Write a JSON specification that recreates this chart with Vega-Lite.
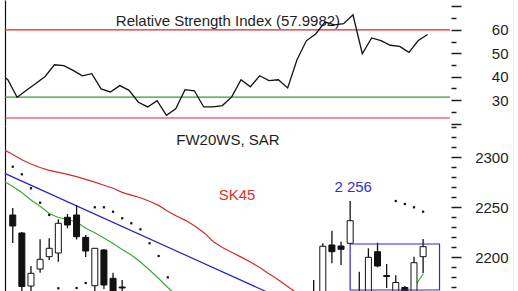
{
  "$schema": "https://vega.github.io/schema/vega-lite/v6.json",
  "padding": {"left": 4, "top": 0, "right": 0, "bottom": 0},
  "autosize": {"type": "pad"},
  "background": "white",
  "config": {
    "view": {"stroke": null},
    "font": "Liberation Sans",
    "locale": {"number": {"decimal": ",", "thousands": " ", "grouping": [3], "currency": ["", " zł"]}},
    "axis": {"grid": false, "domain": false, "labelFont": "Liberation Sans", "labelFontSize": 15, "labelColor": "#1e1e1e", "tickColor": "#1e1e1e", "tickWidth": 1.5}
  },
  "datasets": {
    "bars": [
      {"i": -1, "rsi": 41.7, "sk45": 2307.6, "sk_fast": 2276},
      {"i": 0, "open": 2242, "high": 2249, "low": 2214, "close": 2231, "rsi": 38.7, "sar": 2290.3, "sk45": 2302.4, "sk_fast": 2270.5},
      {"i": 1, "open": 2224, "high": 2225, "low": 2158, "close": 2170.5, "rsi": 31.2, "sar": 2282.7, "sk45": 2297.2, "sk_fast": 2264.5},
      {"i": 2, "open": 2171, "high": 2191, "low": 2158, "close": 2183.7, "rsi": 34.2, "sar": 2268.7, "sk45": 2293, "sk_fast": 2257},
      {"i": 3, "open": 2188, "high": 2217.7, "low": 2184.3, "close": 2197.7, "rsi": 37.1, "sar": 2254.3, "sk45": 2289.5, "sk_fast": 2250.7},
      {"i": 4, "open": 2200.3, "high": 2218.7, "low": 2197, "close": 2208.7, "rsi": 40.1, "sar": 2242, "sk45": 2286.7, "sk_fast": 2243.5},
      {"i": 5, "open": 2204, "high": 2237.7, "low": 2195.3, "close": 2233.7, "rsi": 45.1, "sar": 2168.7, "sk45": 2284.7, "sk_fast": 2239.5},
      {"i": 6, "open": 2239.7, "high": 2243, "low": 2228.7, "close": 2232, "rsi": 44.7, "sk45": 2282.7, "sk_fast": 2237.5},
      {"i": 7, "open": 2242, "high": 2251.5, "low": 2217.5, "close": 2220.3, "rsi": 42.7, "sar": 2169, "sk45": 2280.3, "sk_fast": 2235},
      {"i": 8, "open": 2219.7, "high": 2222, "low": 2200, "close": 2206, "rsi": 40.4, "sar": 2174, "sk45": 2277.7, "sk_fast": 2228.7},
      {"i": 9, "open": 2171.3, "high": 2208.7, "low": 2165, "close": 2208.7, "rsi": 41.3, "sar": 2249.7, "sk45": 2274.9, "sk_fast": 2224.3},
      {"i": 10, "open": 2207, "high": 2208, "low": 2168, "close": 2172, "rsi": 34.8, "sar": 2249.7, "sk45": 2271.8, "sk_fast": 2219},
      {"i": 11, "open": 2178.7, "high": 2184.3, "low": 2152, "close": 2156, "rsi": 33.5, "sar": 2245.3, "sk45": 2268.7, "sk_fast": 2213.5},
      {"i": 12, "open": 2170, "high": 2177, "low": 2158, "close": 2169, "rsi": 36.2, "sar": 2238.7, "sk45": 2264.6, "sk_fast": 2207.5},
      {"i": 13, "rsi": 34.2, "sar": 2233.7, "sk45": 2261.9, "sk_fast": 2202},
      {"i": 14, "rsi": 29.1, "sar": 2227.7, "sk45": 2259.3, "sk_fast": 2195},
      {"i": 15, "rsi": 27.1, "sar": 2213.7, "sk45": 2255.7, "sk_fast": 2187},
      {"i": 16, "rsi": 29.8, "sar": 2201, "sk45": 2251.6, "sk_fast": 2178.5},
      {"i": 17, "rsi": 23.5, "sar": 2179.7, "sk45": 2245.8, "sk_fast": 2169.5},
      {"i": 18, "rsi": 26.3, "sk45": 2240.7, "sk_fast": 2161},
      {"i": 19, "rsi": 34.5, "sk45": 2236.4},
      {"i": 20, "rsi": 34.0, "sk45": 2230.8},
      {"i": 21, "rsi": 27.1, "sk45": 2224.1},
      {"i": 22, "rsi": 27.1, "sk45": 2215.2},
      {"i": 23, "rsi": 27.7, "sk45": 2209.4},
      {"i": 24, "rsi": 31.4, "sk45": 2204.7},
      {"i": 25, "rsi": 38.7, "sk45": 2200.1},
      {"i": 26, "rsi": 35.7, "sk45": 2195.3},
      {"i": 27, "rsi": 40.4, "sk45": 2190},
      {"i": 28, "rsi": 38.3, "sk45": 2183.8},
      {"i": 29, "rsi": 38.7, "sk45": 2177.9},
      {"i": 30, "rsi": 35.2, "sk45": 2171.4},
      {"i": 31, "rsi": 47.2, "sk45": 2164.8},
      {"i": 32, "rsi": 55.3},
      {"i": 33, "open": 2150, "high": 2177, "low": 2145, "close": 2160, "rsi": 58.2},
      {"i": 34, "open": 2150, "high": 2213.7, "low": 2145, "close": 2210.7, "rsi": 63.3},
      {"i": 35, "open": 2212, "high": 2226.3, "low": 2193.7, "close": 2205.3, "rsi": 62.1},
      {"i": 36, "open": 2211, "high": 2215.3, "low": 2192, "close": 2207.7, "rsi": 62.6},
      {"i": 37, "open": 2213.7, "high": 2256, "low": 2213, "close": 2236.3, "rsi": 66.4},
      {"i": 38, "open": 2150, "high": 2185.3, "low": 2145, "close": 2160, "rsi": 49.8},
      {"i": 39, "open": 2160, "high": 2208.7, "low": 2150, "close": 2199.7, "rsi": 56.5},
      {"i": 40, "open": 2205.3, "high": 2214.3, "low": 2189.7, "close": 2191, "rsi": 55.4},
      {"i": 41, "open": 2181.5, "high": 2193, "low": 2169, "close": 2180.5, "rsi": 53.4},
      {"i": 42, "open": 2162, "high": 2181.7, "low": 2155, "close": 2174.5, "rsi": 52.9, "sar": 2256},
      {"i": 43, "open": 2169.5, "high": 2171, "low": 2158, "close": 2164, "rsi": 50.4, "sar": 2253, "sk_fast": 2156},
      {"i": 44, "open": 2160, "high": 2200.3, "low": 2155, "close": 2194.3, "rsi": 55.4, "sar": 2249.7, "sk_fast": 2169.5},
      {"i": 45, "open": 2200.3, "high": 2218, "low": 2183.7, "close": 2210.3, "rsi": 57.9982, "sar": 2245.3, "sk_fast": 2183}
    ]
  },
  "data": {"name": "bars"},
  "spacing": 0,
  "bounds": "flush",
  "vconcat": [
    {
      "width": 445,
      "height": 126,
      "layer": [
        {
          "data": {"values": [{"level": 60}, {"level": 22.4}]},
          "mark": {"type": "rule", "color": "#d22c2c", "strokeWidth": 1.2},
          "encoding": {
            "y": {"field": "level", "type": "quantitative", "title": null,
                  "scale": {"domain": [18.98, 72.7], "nice": false, "zero": false},
                  "axis": {"orient": "right", "offset": 1, "values": [25, 35, 45, 55, 65], "tickSize": 5, "labels": false, "domain": false}}
          }
        },
        {
          "data": {"values": [{"level": 31.3}]},
          "mark": {"type": "rule", "color": "#2aa02a", "strokeWidth": 1.2},
          "encoding": {
            "y": {"field": "level", "type": "quantitative", "title": null,
                  "scale": {"domain": [18.98, 72.7], "nice": false, "zero": false},
                  "axis": {"orient": "right", "offset": 64, "domain": true, "domainColor": "#333333", "domainWidth": 1.2, "ticks": false, "labels": false}}
          }
        },
        {
          "mark": {"type": "line", "color": "#111111", "strokeWidth": 1.3, "clip": true},
          "encoding": {
            "x": {"field": "i", "type": "quantitative", "scale": {"domain": [-0.3, 47.4], "nice": false, "zero": false}, "axis": null},
            "y": {"field": "rsi", "type": "quantitative", "title": null,
                  "scale": {"domain": [18.98, 72.7], "nice": false, "zero": false},
                  "axis": {"orient": "right", "offset": 1, "values": [20, 30, 40, 50, 60, 70], "tickSize": 10, "labelPadding": 47, "labelAlign": "right",
                           "labelExpr": "datum.value >= 30 && datum.value <= 60 ? datum.label : ''"}}
          }
        },
        {
          "data": {"values": [{"caption": "Relative Strength Index (57.9982)"}]},
          "mark": {"type": "text", "fontSize": 15, "color": "#1e1e1e", "align": "center", "baseline": "alphabetic"},
          "encoding": {
            "x": {"datum": 23.6, "type": "quantitative", "scale": {"domain": [-0.3, 47.4], "nice": false, "zero": false}, "axis": null},
            "y": {"datum": 61.6, "type": "quantitative", "title": null,
                  "scale": {"domain": [18.98, 72.7], "nice": false, "zero": false},
                  "axis": {"orient": "left", "domain": true, "domainColor": "#111111", "domainWidth": 1.2, "ticks": false, "labels": false}},
            "text": {"field": "caption"}
          }
        }
      ],
      "resolve": {"axis": {"y": "independent"}}
    },
    {
      "width": 445,
      "height": 165,
      "layer": [
        {
          "mark": {"type": "line", "color": "#d42a2a", "strokeWidth": 1.2, "clip": true},
          "encoding": {
            "x": {"field": "i", "type": "quantitative", "scale": {"domain": [-0.3, 47.4], "nice": false, "zero": false}, "axis": null},
            "y": {"field": "sk45", "type": "quantitative", "title": null,
                  "scale": {"domain": [2166, 2331], "nice": false, "zero": false},
                  "axis": {"orient": "right", "offset": 1, "values": [2200, 2250, 2300], "format": "d", "tickSize": 10, "labelPadding": 47, "labelAlign": "right"}}
          }
        },
        {
          "mark": {"type": "line", "color": "#3aaa3a", "strokeWidth": 1.2, "clip": true},
          "encoding": {
            "x": {"field": "i", "type": "quantitative", "scale": {"domain": [-0.3, 47.4], "nice": false, "zero": false}, "axis": null},
            "y": {"field": "sk_fast", "type": "quantitative", "title": null,
                  "scale": {"domain": [2166, 2331], "nice": false, "zero": false},
                  "axis": {"orient": "right", "offset": 1, "values": [2170, 2180, 2190, 2210, 2220, 2230, 2240, 2260, 2270, 2280, 2290, 2310, 2320, 2330], "tickSize": 5, "labels": false, "domain": false}}
          }
        },
        {
          "data": {"values": [{"from": -1, "start": 2284.1, "to": 30, "end": 2156.3}]},
          "mark": {"type": "rule", "color": "#2424c8", "strokeWidth": 1.2, "clip": true},
          "encoding": {
            "x": {"field": "from", "type": "quantitative", "scale": {"domain": [-0.3, 47.4], "nice": false, "zero": false}, "axis": null},
            "x2": {"field": "to"},
            "y": {"field": "start", "type": "quantitative", "title": null,
                  "scale": {"domain": [2166, 2331], "nice": false, "zero": false},
                  "axis": {"orient": "left", "domain": true, "domainColor": "#111111", "domainWidth": 1.2, "ticks": false, "labels": false}},
            "y2": {"field": "end"}
          }
        },
        {
          "mark": {"type": "point", "shape": "square", "filled": true, "size": 5, "color": "#111111", "opacity": 1, "clip": true},
          "encoding": {
            "x": {"field": "i", "type": "quantitative", "scale": {"domain": [-0.3, 47.4], "nice": false, "zero": false}, "axis": null},
            "y": {"field": "sar", "type": "quantitative", "title": null,
                  "scale": {"domain": [2166, 2331], "nice": false, "zero": false},
                  "axis": {"orient": "right", "offset": 64, "domain": true, "domainColor": "#333333", "domainWidth": 1.2, "ticks": false, "labels": false}}
          }
        },
        {
          "mark": {"type": "rule", "color": "#111111", "strokeWidth": 1.3, "clip": true},
          "encoding": {
            "x": {"field": "i", "type": "quantitative", "scale": {"domain": [-0.3, 47.4], "nice": false, "zero": false}, "axis": null},
            "y": {"field": "low", "type": "quantitative", "scale": {"domain": [2166, 2331], "nice": false, "zero": false}, "axis": null},
            "y2": {"field": "high"}
          }
        },
        {
          "mark": {"type": "bar", "size": 6, "stroke": "#111111", "strokeWidth": 1, "clip": true},
          "encoding": {
            "x": {"field": "i", "type": "quantitative", "scale": {"domain": [-0.3, 47.4], "nice": false, "zero": false}, "axis": null},
            "y": {"field": "open", "type": "quantitative", "scale": {"domain": [2166, 2331], "nice": false, "zero": false}, "axis": null},
            "y2": {"field": "close"},
            "fill": {"condition": {"test": "datum.close < datum.open", "value": "#111111"}, "value": "#ffffff"}
          }
        },
        {
          "data": {"values": [{"from": 37, "to": 46.8, "top": 2213, "bottom": 2167}]},
          "mark": {"type": "rect", "fillOpacity": 0, "stroke": "#2b2bcc", "strokeWidth": 1.2, "clip": true},
          "encoding": {
            "x": {"field": "from", "type": "quantitative", "scale": {"domain": [-0.3, 47.4], "nice": false, "zero": false}, "axis": null},
            "x2": {"field": "to"},
            "y": {"field": "top", "type": "quantitative", "scale": {"domain": [2166, 2331], "nice": false, "zero": false}, "axis": null},
            "y2": {"field": "bottom"}
          }
        },
        {
          "transform": [{"filter": "datum.i === 37"}],
          "mark": {"type": "text", "fontSize": 15, "color": "#3030d0", "align": "center", "baseline": "alphabetic", "dx": 3, "dy": -9},
          "encoding": {
            "x": {"field": "i", "type": "quantitative", "scale": {"domain": [-0.3, 47.4], "nice": false, "zero": false}, "axis": null},
            "y": {"field": "high", "type": "quantitative", "scale": {"domain": [2166, 2331], "nice": false, "zero": false}, "axis": null},
            "text": {"field": "high", "type": "quantitative", "format": ",d"}
          }
        },
        {
          "data": {"values": [{"caption": "FW20WS, SAR"}]},
          "mark": {"type": "text", "fontSize": 15, "color": "#1e1e1e", "align": "center", "baseline": "alphabetic"},
          "encoding": {
            "x": {"datum": 23.6, "type": "quantitative", "scale": {"domain": [-0.3, 47.4], "nice": false, "zero": false}, "axis": null},
            "y": {"datum": 2312, "type": "quantitative", "scale": {"domain": [2166, 2331], "nice": false, "zero": false}, "axis": null},
            "text": {"field": "caption"}
          }
        },
        {
          "data": {"values": [{"caption": "SK45"}]},
          "mark": {"type": "text", "fontSize": 15, "color": "#e03030", "align": "center", "baseline": "alphabetic"},
          "encoding": {
            "x": {"datum": 24.6, "type": "quantitative", "scale": {"domain": [-0.3, 47.4], "nice": false, "zero": false}, "axis": null},
            "y": {"datum": 2257, "type": "quantitative", "scale": {"domain": [2166, 2331], "nice": false, "zero": false}, "axis": null},
            "text": {"field": "caption"}
          }
        }
      ],
      "resolve": {"axis": {"y": "independent"}}
    }
  ]
}
